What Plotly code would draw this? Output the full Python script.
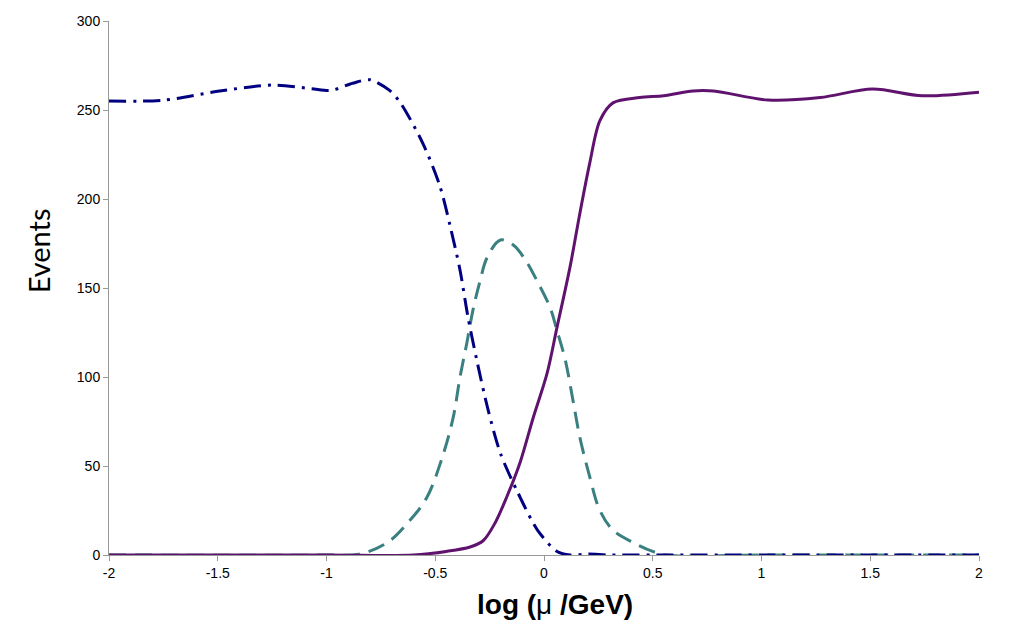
import plotly.graph_objects as go

# Blue dash-dot series
blue_x = [-2.0, -1.75, -1.5, -1.25, -1.07, -0.98, -0.88, -0.8, -0.71, -0.66, -0.556, -0.478, -0.43, -0.386,
          -0.35, -0.31, -0.26, -0.2, -0.12, -0.03, 0.06, 0.12, 0.2, 0.3, 0.5, 1.0, 1.5, 2.0]
blue_y = [255, 255.5, 260.5, 264, 262, 261, 265, 267, 261, 254, 231, 207, 184, 160,
          134, 110, 83, 57, 35, 14, 2, 0, 0.5, 0, 0, 0, 0, 0]

# Teal dashed series
teal_x = [-2.0, -1.0, -0.85, -0.72, -0.62, -0.54, -0.47, -0.418, -0.386, -0.355, -0.326, -0.294,
          -0.262, -0.2, -0.14, -0.087, -0.032, 0.028, 0.06, 0.097, 0.133, 0.165, 0.21, 0.257, 0.317,
          0.41, 0.5, 0.56, 1.0, 1.5, 2.0]
teal_y = [0, 0, 0.5, 7, 19, 32, 54, 77, 100, 119, 138, 154,
          167, 177, 174, 166, 154, 139, 126, 110, 87, 66, 44, 25, 14,
          7, 2, 0, 0, 0, 0]

# Purple solid series
purple_x = [-2.0, -1.0, -0.6, -0.45, -0.34, -0.28, -0.225, -0.17, -0.11, -0.05, 0.014, 0.06, 0.12,
            0.165, 0.21, 0.257, 0.317, 0.44, 0.55, 0.685, 0.78, 1.03, 1.27, 1.51, 1.74, 2.0]
purple_y = [0, 0, 0, 2, 4.5, 8, 18, 33, 52, 77, 102, 128, 162,
            192, 220, 244, 254, 257, 258, 260.7, 260.7, 255.6, 257, 261.8, 258, 260]

x_ticks = [-2, -1.5, -1, -0.5, 0, 0.5, 1, 1.5, 2]
x_tick_text = ["-2", "-1.5", "-1", "-0.5", "0", "0.5", "1", "1.5", "2"]
y_ticks = [0, 50, 100, 150, 200, 250, 300]

fig = go.Figure()
fig.add_trace(go.Scatter(x=teal_x, y=teal_y, mode="lines",
                         line=dict(color="#3a8080", width=3, dash="17px,9px", shape="spline", smoothing=1.0)))
fig.add_trace(go.Scatter(x=blue_x, y=blue_y, mode="lines",
                         line=dict(color="#000080", width=3, dash="17px,7px,3px,7px", shape="spline", smoothing=0.8)))
fig.add_trace(go.Scatter(x=purple_x, y=purple_y, mode="lines",
                         line=dict(color="#5f136e", width=3, shape="spline", smoothing=0.9)))

fig.update_layout(
    width=1026, height=644,
    margin=dict(l=109, r=47, t=21, b=89),
    paper_bgcolor="white", plot_bgcolor="white",
    showlegend=False,
    font=dict(family="Liberation Sans, Arial, sans-serif", color="black", size=14),
    annotations=[
        dict(text="Events", xref="paper", yref="paper", x=-0.0814, y=0.569,
             xanchor="center", yanchor="middle", textangle=-90, showarrow=False,
             font=dict(family="Lato, sans-serif", size=29, color="black")),
        dict(text="<b>log (</b>μ<b> /GeV)</b>", xref="paper", yref="paper", x=0.5126, y=-0.0918,
             xanchor="center", yanchor="middle", showarrow=False,
             font=dict(family="Liberation Sans, Arial, sans-serif", size=28, color="black")),
    ],
)
fig.update_xaxes(
    range=[-2, 2], tickvals=x_ticks, ticktext=x_tick_text,
    showgrid=False, zeroline=False, showline=True, linecolor="#999999", linewidth=1,
    ticks="outside", ticklen=5, tickcolor="#999999",
    tickfont=dict(size=14),
)
fig.update_yaxes(
    range=[0, 300], tickvals=y_ticks,
    showgrid=False, zeroline=False, showline=True, linecolor="#999999", linewidth=1,
    ticks="outside", ticklen=5, tickcolor="#999999",
    tickfont=dict(size=14),
)

fig.write_html("out.html")
